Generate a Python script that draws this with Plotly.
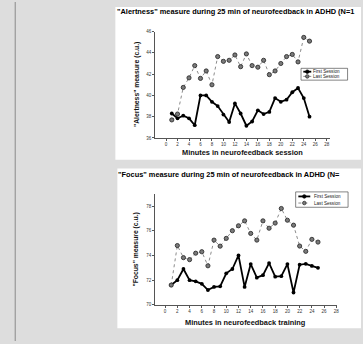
import plotly.graph_objects as go

minutes = list(range(1, 26))

alert_first = [38.3, 37.85, 38.1, 37.85, 37.2, 40.0, 40.0, 39.4, 39.0, 38.2,
               37.5, 39.25, 38.3, 37.15, 37.55, 38.6, 38.25, 38.45, 39.75, 39.4,
               39.6, 40.3, 40.7, 39.75, 38.0]
alert_last = [37.7, 38.25, 40.75, 41.65, 42.8, 41.6, 42.3, 41.0, 43.65, 43.2,
              43.3, 43.8, 42.7, 43.9, 42.8, 42.65, 43.3, 41.95, 42.3, 43.0,
              43.65, 43.85, 43.15, 45.45, 45.1]

focus_first = [71.6, 72.0, 72.9, 72.0, 71.9, 71.7, 71.2, 71.45, 71.5, 72.55,
               72.9, 74.0, 71.45, 73.3, 72.2, 72.4, 73.38, 72.28, 72.32, 73.3,
               71.0, 73.25, 73.32, 73.15, 73.0]
focus_last = [71.6, 74.8, 73.82, 73.66, 74.18, 74.3, 73.16, 75.24, 74.75, 75.38,
              76.0, 76.4, 76.8, 75.78, 75.24, 76.8, 76.2, 76.62, 77.8, 76.85,
              76.45, 74.76, 74.33, 75.3, 75.08]

x_ticks = list(range(0, 29, 2))
alert_ticks = [36, 38, 40, 42, 44, 46]
focus_ticks = [70, 72, 74, 76, 78]

title1 = '"Alertness" measure during 25 min of neurofeedback in ADHD (N=1'
title2 = '"Focus" measure during 25 min of neurofeedback in ADHD (N='
xtitle1 = "Minutes in neurofeedback session"
xtitle2 = "Minutes in neurofeedback training"
ytitle1 = '"Alertness" measure (c.u.)'
ytitle2 = '"Focus" measure (c.u.)'
series_names = ["First Session", "Last Session"]

W, H = 363, 344
def px(v):
    return v / W
def py(v):
    return 1 - v / H

FONT = "Liberation Sans, Arial, sans-serif"
FIRST_LINE = dict(color="black", width=1.8)
LAST_LINE = dict(color="#8c8c8c", width=1, dash="dot")
LAST_FILL = "#7a7a7a"
LAST_EDGE = "#222222"

fig = go.Figure()

def add_pair(first, last, xa, ya):
    fig.add_trace(go.Scatter(
        x=minutes, y=first, name=series_names[0], mode="lines+markers",
        xaxis=xa, yaxis=ya, showlegend=False,
        line=FIRST_LINE,
        marker=dict(symbol="circle", size=3.8, color="black"),
    ))
    fig.add_trace(go.Scatter(
        x=minutes, y=last, name=series_names[1], mode="lines+markers",
        xaxis=xa, yaxis=ya, showlegend=False,
        line=LAST_LINE,
        marker=dict(symbol="circle", size=4.2, color=LAST_FILL,
                    line=dict(color=LAST_EDGE, width=0.8)),
    ))

add_pair(alert_first, alert_last, "x", "y")
add_pair(focus_first, focus_last, "x2", "y2")

axis_common = dict(
    showline=True, linecolor="#555555", linewidth=0.8,
    ticks="outside", ticklen=2, tickwidth=0.6, tickcolor="#555555",
    showgrid=False, zeroline=False,
    tickfont=dict(family=FONT, size=4.5, color="#333333"),
    fixedrange=True,
)

shapes = [
    dict(type="rect", xref="paper", yref="paper", layer="below",
         x0=px(116), x1=1.0, y0=py(160), y1=py(5),
         fillcolor="white", line=dict(width=0)),
    dict(type="rect", xref="paper", yref="paper", layer="below",
         x0=px(118), x1=1.0, y0=py(331), y1=py(169),
         fillcolor="white", line=dict(width=0)),
    dict(type="line", xref="paper", yref="paper", layer="below",
         x0=px(15.3), x1=px(15.3), y0=0, y1=1,
         line=dict(color="#8a8a8a", width=1)),
]
annotations = [
    dict(text="<b>" + title1 + "</b>", xref="paper", yref="paper",
         x=px(116), y=py(10), xanchor="left", yanchor="middle",
         showarrow=False, font=dict(family=FONT, size=7.4, color="black")),
    dict(text="<b>" + title2 + "</b>", xref="paper", yref="paper",
         x=px(117), y=py(175), xanchor="left", yanchor="middle",
         showarrow=False, font=dict(family=FONT, size=7.4, color="black")),
    dict(text="<b>" + xtitle1 + "</b>", xref="paper", yref="paper",
         x=px(243.5), y=py(153), xanchor="center", yanchor="middle",
         showarrow=False, font=dict(family=FONT, size=7.4, color="#111111")),
    dict(text="<b>" + xtitle2 + "</b>", xref="paper", yref="paper",
         x=px(247), y=py(325.5), xanchor="center", yanchor="middle",
         showarrow=False, font=dict(family=FONT, size=7.4, color="#111111")),
    dict(text="<b>" + ytitle1 + "</b>", xref="paper", yref="paper",
         x=px(138), y=py(84), xanchor="center", yanchor="middle",
         textangle=-90, showarrow=False,
         font=dict(family=FONT, size=6.8, color="#111111")),
    dict(text="<b>" + ytitle2 + "</b>", xref="paper", yref="paper",
         x=px(137), y=py(251), xanchor="center", yanchor="middle",
         textangle=-90, showarrow=False,
         font=dict(family=FONT, size=6.8, color="#111111")),
]

def add_legend(x0, x1, y0, y1, rows_y, line_x0, line_x1, text_x):
    shapes.append(dict(type="rect", xref="paper", yref="paper",
                       x0=px(x0), x1=px(x1), y0=py(y1), y1=py(y0),
                       fillcolor="white", line=dict(color="#333333", width=0.6)))
    styles = [(FIRST_LINE, "black", "black"), (LAST_LINE, LAST_FILL, LAST_EDGE)]
    mx = (line_x0 + line_x1) / 2
    for name, ry, (ln, fill, edge) in zip(series_names, rows_y, styles):
        shapes.append(dict(type="line", xref="paper", yref="paper",
                           x0=px(line_x0), x1=px(line_x1), y0=py(ry), y1=py(ry),
                           line=ln))
        r = 1.8
        shapes.append(dict(type="circle", xref="paper", yref="paper",
                           x0=px(mx - r), x1=px(mx + r), y0=py(ry + r), y1=py(ry - r),
                           fillcolor=fill, line=dict(color=edge, width=0.7)))
        annotations.append(dict(text=name, xref="paper", yref="paper",
                                x=px(text_x), y=py(ry), xanchor="left", yanchor="middle",
                                showarrow=False, borderpad=0,
                                font=dict(family=FONT, size=4.6, color="#222222")))

add_legend(302.7, 349.5, 67.3, 79.3, [70.7, 75.5], 305, 313, 314)
add_legend(297.3, 350, 192.7, 208.3, [197.3, 204], 300, 312, 314.5)

fig.update_layout(
    width=W, height=H, autosize=False,
    margin=dict(l=0, r=0, t=0, b=0),
    paper_bgcolor="#dddddd", plot_bgcolor="white",
    showlegend=False,
    xaxis=dict(domain=[px(156), px(332)], range=[-1.9, 28.6], anchor="y",
               tickvals=x_ticks, **axis_common),
    yaxis=dict(domain=[py(138), py(30)], range=[36, 46], anchor="x",
               tickvals=alert_ticks, **axis_common),
    xaxis2=dict(domain=[px(156), px(339)], range=[-1.63, 28.13], anchor="y2",
                tickvals=x_ticks, **axis_common),
    yaxis2=dict(domain=[py(307.3), py(194.5)], range=[70, 79], anchor="x2",
                tickvals=focus_ticks, **axis_common),
    shapes=shapes,
    annotations=annotations,
)

fig.write_html("out.html", config={"displayModeBar": False},
               post_script="document.body.style.margin='0';document.body.style.overflow='hidden';")
